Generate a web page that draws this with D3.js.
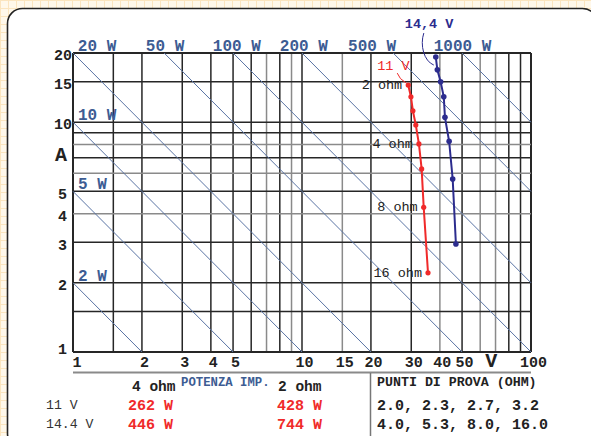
<!DOCTYPE html>
<html>
<head>
<meta charset="utf-8">
<script src="https://cdn.jsdelivr.net/npm/d3@7"></script>
<style>
  html, body { margin: 0; padding: 0; }
  body {
    width: 591px; height: 436px; overflow: hidden;
    background-color: #fff8ea;
    background-image:
      linear-gradient(#fbe5bf 1px, transparent 1px),
      linear-gradient(90deg, #fbe5bf 1px, transparent 1px);
    background-size: 8px 8px;
  }
  svg { display: block; font-family: "Liberation Mono", "DejaVu Sans Mono", monospace; }
</style>
</head>
<body>
<svg id="chart" width="591" height="436"></svg>
<script>
// measured points, V / A for each supply voltage
const volts11 = [29.1, 29.9, 30.5, 31.4, 32.4, 33.3, 34.0, 35.5];
const amps11 = [14.5, 12.9, 11.2, 9.72, 8.04, 6.26, 4.26, 2.21];
const volts14 = [38.4, 39.0, 40.3, 41.6, 42.1, 43.9, 45.5, 47.0];
const amps14 = [19.2, 16.9, 15.0, 12.9, 10.5, 8.26, 5.66, 2.95];

const testOhms = [2.0, 2.3, 2.7, 3.2, 4.0, 5.3, 8.0, 16.0];
const ohmLabels = ["2 ohm", "4 ohm", "8 ohm", "16 ohm"];
const ohmLabelIdx = [0, 4, 6, 7];

const powerLines = [2, 5, 10, 20, 50, 100, 200, 500, 1000];
const topPowerLabels = ["20 W", "50 W", "100 W", "200 W", "500 W", "1000 W"];
const leftPowerLabels = ["10 W", "5 W", "2 W"];

const xTicks = [1, 2, 3, 4, 5, 10, 15, 20, 30, 40, 50, 100];
const yTicks = [1, 2, 3, 4, 5, 10, 15, 20];
const xGrid = [1, 1.5, 2, 3, 4, 5, 6, 7, 8, 9, 10, 15, 20, 30, 40, 50, 60, 70, 80, 90, 100];
const yGrid = [1, 1.5, 2, 3, 4, 5, 6, 7, 8, 9, 10, 15, 20];
const xGridGray = [7, 9, 15, 40, 60, 70];
const yGridGray = [4, 6, 8];

const tableRows = ["11 V", "14.4 V"];
const power4ohm = [262, 446];
const power2ohm = [428, 744];

const blueText = "#3d5c93";
const red = "#f02a2a";
const navy = "#2c2c8e";

const svg = d3.select("#chart");

// frame
svg.append("rect")
  .attr("x", 7.5).attr("y", 8.5)
  .attr("width", 590).attr("height", 440)
  .attr("rx", 15)
  .attr("fill", "#fff")
  .attr("stroke", "#222")
  .attr("stroke-width", 1.6);

const x = d3.scaleLog().domain([1, 100]).range([73, 531]);
const y = d3.scaleLog().domain([1, 20]).range([352, 53]);

// grid
const grid = svg.append("g");
grid.selectAll("line.v")
  .data(xGrid)
  .join("line")
  .attr("class", "v")
  .attr("x1", (d) => x(d)).attr("x2", (d) => x(d))
  .attr("y1", y(1)).attr("y2", y(20))
  .attr("stroke", (d) => (xGridGray.includes(d) ? "#8a8a8a" : "#262626"))
  .attr("stroke-width", (d) => (d === 1 || d === 100 ? 2 : 1.5));

grid.selectAll("line.h")
  .data(yGrid)
  .join("line")
  .attr("class", "h")
  .attr("y1", (d) => y(d)).attr("y2", (d) => y(d))
  .attr("x1", x(1)).attr("x2", x(100))
  .attr("stroke", (d) => (yGridGray.includes(d) ? "#8a8a8a" : "#262626"))
  .attr("stroke-width", (d) => (d === 1 || d === 20 ? 2 : 1.5));

// constant power lines
svg.append("g")
  .selectAll("line")
  .data(powerLines)
  .join("line")
  .attr("x1", (p) => x(Math.max(1, p / 20)))
  .attr("y1", (p) => y(p / Math.max(1, p / 20)))
  .attr("x2", (p) => x(Math.min(100, p)))
  .attr("y2", (p) => y(p / Math.min(100, p)))
  .attr("stroke", "#5a74a4")
  .attr("stroke-width", 1);

// power labels
const topLabelV = [1.05, 2.08, 4.08, 8.0, 15.9, 37.6];
svg.append("g")
  .selectAll("text")
  .data(topPowerLabels)
  .join("text")
  .attr("x", (d, i) => x(topLabelV[i]))
  .attr("y", 51)
  .attr("fill", blueText)
  .attr("font-size", 16)
  .attr("font-weight", "bold")
  .text((d) => d);

const leftLabelA = [10, 5, 2];
svg.append("g")
  .selectAll("text")
  .data(leftPowerLabels)
  .join("text")
  .attr("x", x(1) + 5)
  .attr("y", (d, i) => y(leftLabelA[i]) - 2)
  .attr("fill", blueText)
  .attr("font-size", 16)
  .attr("font-weight", "bold")
  .text((d) => d);

// axes (labels only)
const xAxis = svg.append("g")
  .attr("transform", `translate(0,${y(1)})`)
  .call(d3.axisBottom(x).tickValues(xTicks).tickFormat(d3.format("d")).tickSize(0).tickPadding(4));
xAxis.select(".domain").remove();
xAxis.selectAll("text")
  .attr("font-family", "Liberation Mono, monospace")
  .attr("font-size", 15)
  .attr("font-weight", "bold")
  .attr("fill", "#222")
  .attr("text-anchor", (d) => (d === 1 ? "start" : "middle"))
  .attr("x", (d) => (d === 1 ? -1 : 2));

svg.append("text")
  .attr("x", x(67)).attr("y", 367)
  .attr("text-anchor", "middle")
  .attr("font-size", 20).attr("font-weight", "bold").attr("fill", "#222")
  .text("V");

const yAxis = svg.append("g")
  .attr("transform", `translate(${x(1)},0)`)
  .call(d3.axisLeft(y).tickValues(yTicks).tickFormat(d3.format("d")).tickSize(0).tickPadding(1));
yAxis.select(".domain").remove();
yAxis.selectAll("text")
  .attr("font-family", "Liberation Mono, monospace")
  .attr("font-size", 15)
  .attr("font-weight", "bold")
  .attr("fill", "#222")
  .attr("x", (d) => (d < 10 ? -6 : -1))
  .attr("dy", (d) => (d === 1 ? "0.1em" : "0.45em"));

svg.append("text")
  .attr("x", 61).attr("y", y(7.3) + 7)
  .attr("text-anchor", "middle")
  .attr("font-size", 20).attr("font-weight", "bold").attr("fill", "#222")
  .text("A");

// curves
const line = d3.line().x((d) => x(d[0])).y((d) => y(d[1]));
const series = [
  { v: volts11, a: amps11, color: red, r: 2.6 },
  { v: volts14, a: amps14, color: navy, r: 2.8 }
];
for (const s of series) {
  const pts = s.v.map((v, i) => [v, s.a[i]]);
  svg.append("path")
    .datum(pts)
    .attr("d", line)
    .attr("fill", "none")
    .attr("stroke", s.color)
    .attr("stroke-width", 2);
  svg.append("g")
    .selectAll("circle")
    .data(pts)
    .join("circle")
    .attr("cx", (d) => x(d[0]))
    .attr("cy", (d) => y(d[1]))
    .attr("r", s.r)
    .attr("fill", s.color);
}

// ohm labels next to the 11 V points
svg.append("g")
  .selectAll("text")
  .data(ohmLabels)
  .join("text")
  .attr("x", (d, i) => x(volts11[ohmLabelIdx[i]]) - 6)
  .attr("y", (d, i) => y(amps11[ohmLabelIdx[i]]) + 4)
  .attr("text-anchor", "end")
  .attr("font-size", 13.5)
  .attr("fill", "#222")
  .text((d) => d);

// series labels with leaders
const r0 = [x(volts11[0]), y(amps11[0])];
svg.append("text")
  .attr("x", r0[0] - 31).attr("y", r0[1] - 15)
  .attr("font-size", 13.5).attr("fill", red)
  .text("11 V");
svg.append("path")
  .attr("d", `M${r0[0] - 11},${r0[1] - 12} Q${r0[0] - 9},${r0[1] - 6} ${r0[0] - 2},${r0[1] - 2}`)
  .attr("fill", "none").attr("stroke", red).attr("stroke-width", 1);

const b0 = [x(volts14[0]), y(amps14[0])];
svg.append("text")
  .attr("x", b0[0] - 31).attr("y", b0[1] - 29)
  .attr("font-size", 13.5).attr("font-weight", "bold").attr("fill", navy)
  .text("14,4 V");
svg.append("path")
  .attr("d", `M${b0[0] - 12},${b0[1] - 24} C${b0[0] - 16},${b0[1] - 12} ${b0[0] - 12},${b0[1] + 4} ${b0[0] - 2},${b0[1] + 8}`)
  .attr("fill", "none").attr("stroke", navy).attr("stroke-width", 1);

// bottom table
svg.append("line")
  .attr("x1", x(1)).attr("x2", x(100))
  .attr("y1", 372.5).attr("y2", 372.5)
  .attr("stroke", "#8a8a8a").attr("stroke-width", 2);
svg.append("line")
  .attr("x1", 370.5).attr("x2", 370.5)
  .attr("y1", 373).attr("y2", 436)
  .attr("stroke", "#777").attr("stroke-width", 1.5);

svg.append("text")
  .attr("x", 132).attr("y", 391)
  .attr("font-size", 14.5).attr("font-weight", "bold").attr("fill", "#222")
  .text("4 ohm");
svg.append("text")
  .attr("x", 278).attr("y", 391)
  .attr("font-size", 14.5).attr("font-weight", "bold").attr("fill", "#222")
  .text("2 ohm");
svg.append("text")
  .attr("x", 181).attr("y", 385.5)
  .attr("font-size", 12.3).attr("font-weight", "bold").attr("fill", blueText)
  .text("POTENZA IMP.");

const rowY = [409, 427.5];
const rows = svg.append("g");
tableRows.forEach((label, i) => {
  rows.append("text")
    .attr("x", 46).attr("y", rowY[i])
    .attr("font-size", 13.2).attr("fill", "#333")
    .text(label);
  rows.append("text")
    .attr("x", 128).attr("y", rowY[i] + 1)
    .attr("font-size", 15).attr("font-weight", "bold").attr("fill", red)
    .text(`${power4ohm[i]} W`);
  rows.append("text")
    .attr("x", 277).attr("y", rowY[i] + 1)
    .attr("font-size", 15).attr("font-weight", "bold").attr("fill", red)
    .text(`${power2ohm[i]} W`);
});

svg.append("text")
  .attr("x", 377).attr("y", 385.5)
  .attr("font-size", 13.3).attr("font-weight", "bold").attr("fill", "#222")
  .text("PUNTI DI PROVA (OHM)");

const fmtOhm = d3.format(".1f");
[testOhms.slice(0, 4), testOhms.slice(4)].forEach((group, i) => {
  svg.append("text")
    .attr("x", 377).attr("y", rowY[i] + 1)
    .attr("font-size", 15).attr("font-weight", "bold").attr("fill", "#222")
    .text(group.map(fmtOhm).join(", "));
});
</script>
</body>
</html>
